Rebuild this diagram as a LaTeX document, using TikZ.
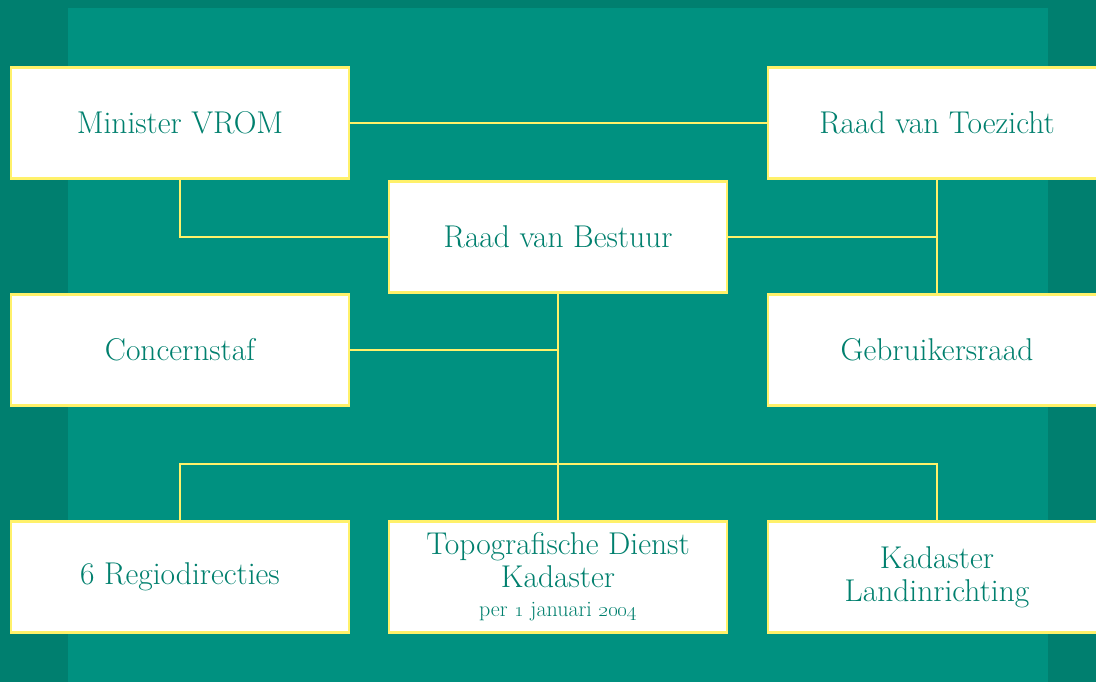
\documentclass[tikz,border=0pt]{standalone}
\definecolor{outerbg}{HTML}{007F6F}
\definecolor{innerbg}{HTML}{009180}
\definecolor{txt}{HTML}{00806E}
\definecolor{lineyel}{HTML}{FFF16A}
\newcommand{\smallline}[1]{{\fontsize{22}{24}\selectfont #1}}
\begin{document}
\begin{tikzpicture}[x=1pt,y=-1pt,
  box/.style={draw=lineyel,line width=2.6pt,fill=white,minimum width=338pt,minimum height=111pt,inner sep=0pt,text=txt,font=\fontsize{31.5}{33}\selectfont,align=center},
  conn/.style={draw=lineyel,line width=2pt}]
\useasboundingbox (0,0) rectangle (1096,682);
\clip (0,0) rectangle (1096,682);
\fill[outerbg] (0,0) rectangle (1096,682);
\fill[innerbg] (68,8) rectangle (1048,682);
% junction coordinates
\coordinate (j1) at (558,350);
\coordinate (j2) at (558,464);
\path (180,123) coordinate (pmin) (937,123) coordinate (prvt) (558,237) coordinate (prvb)
      (937,350) coordinate (pgeb) (180,577) coordinate (preg) (558,577) coordinate (ptop)
      (937,577) coordinate (pkad) (180,350) coordinate (pcon);
\node[box] (min) at (pmin) {Minister VROM};
\node[box] (rvt) at (prvt) {Raad van Toezicht};
\node[box] (rvb) at (prvb) {Raad van Bestuur};
\node[box] (con) at (pcon) {Concernstaf};
\node[box] (geb) at (pgeb) {Gebruikersraad};
\node[box] (reg) at (preg) {6 Regiodirecties};
\node[box] (top) at (ptop) {Topografische Dienst\\Kadaster\\[-4pt]\smallline{per \oldstylenums{1} januari \oldstylenums{2004}}};
\node[box] (kad) at (pkad) {Kadaster\\Landinrichting};
\draw[conn] (min.east) -- (rvt.west);
\draw[conn] (min.south) |- (rvb.west);
\draw[conn] (rvb.east) -- (rvt.south |- rvb.east);
\draw[conn] (rvt.south) -- (geb.north);
\draw[conn] (rvb.south) -- (top.north);
\draw[conn] (con.east) -- (j1);
\draw[conn] (reg.north) |- (j2) -| (kad.north);
\end{tikzpicture}
\end{document}
